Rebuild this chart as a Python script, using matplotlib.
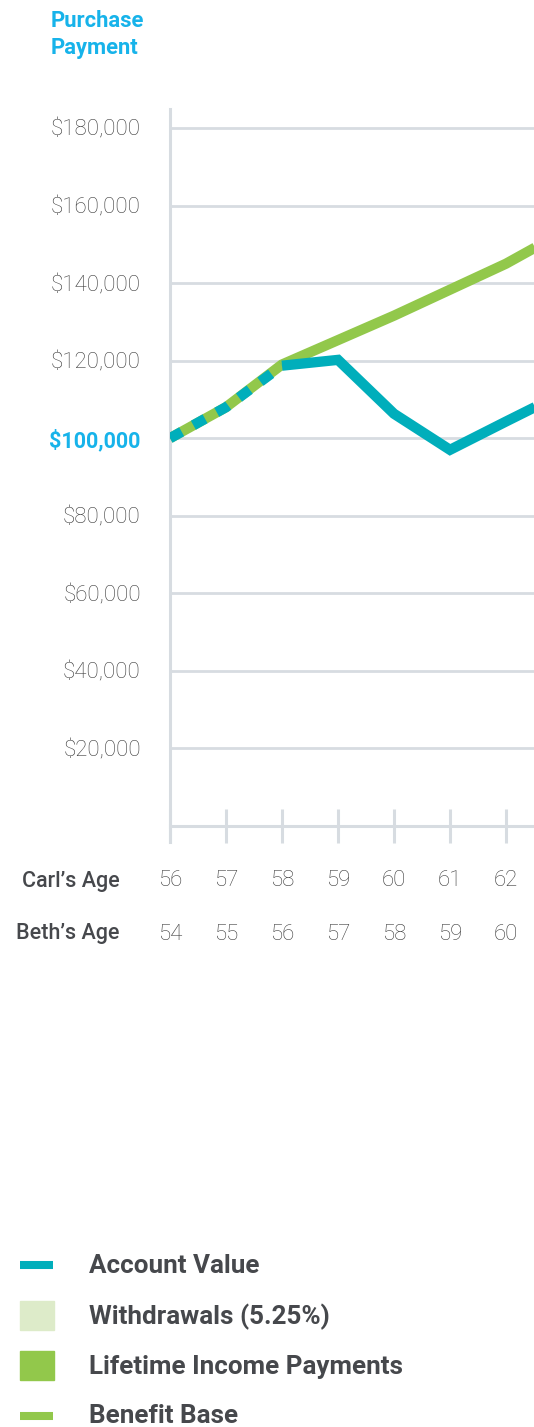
import matplotlib
matplotlib.use("Agg")
import matplotlib.pyplot as plt
from matplotlib.patches import Rectangle
from matplotlib.lines import Line2D

# ---- data ----
carl_ages = [56, 57, 58, 59, 60, 61, 62, 63]
beth_ages = [54, 55, 56, 57, 58, 59, 60]
account_value = [100000, 108000, 118700, 120200, 106300, 97000, 104300, 111500]
benefit_base = [100000, 108000, 119000, 125300, 131600, 138300, 145000, 153000]
dashed_until = 58  # both series overlap up to this age
y_ticks = [20000, 40000, 60000, 80000, 100000, 120000, 140000, 160000, 180000]
y_tick_labels = ["$20,000", "$40,000", "$60,000", "$80,000", "$100,000",
                 "$120,000", "$140,000", "$160,000", "$180,000"]
highlight_tick = 100000
legend_labels = ["Account Value", "Withdrawals (5.25%)",
                 "Lifetime Income Payments", "Benefit Base"]

TEAL = "#00AEBB"
GREEN = "#92C84B"
LIGHT_GREEN = "#DDEBC9"
GRID = "#D7DCE1"
CYAN = "#17B3EA"
TXT = "#3C3C3C"
DARK = "#46484C"

W, H = 534, 1427
fig = plt.figure(figsize=(W / 100, H / 100), dpi=100)
fig.patch.set_facecolor("white")

def fx(px):
    return px / W

def fy(py):
    return 1 - py / H

y_lo, y_hi = -4126, 184890
ax = fig.add_axes([fx(170), fy(842), fx(534) - fx(170), fy(109) - fy(842)])
ax.set_xlim(56, 62.5)
ax.set_ylim(y_lo, y_hi)
ax.set_facecolor("none")

for s in ["top", "right"]:
    ax.spines[s].set_visible(False)
ax.spines["left"].set_color(GRID)
ax.spines["left"].set_linewidth(2.2)
ax.spines["bottom"].set_position(("data", 0))
ax.spines["bottom"].set_color(GRID)
ax.spines["bottom"].set_linewidth(2.2)

# grid lines
for v in y_ticks:
    ax.axhline(v, color=GRID, lw=2.0, zorder=1)

# y ticks
ax.set_yticks(y_ticks)
ax.set_yticklabels(y_tick_labels)
ax.tick_params(axis="y", length=0, pad=21)
for lab, v in zip(ax.get_yticklabels(), y_ticks):
    lab.set_fontfamily("Roboto")
    lab.set_fontsize(16)
    if v == highlight_tick:
        lab.set_color(CYAN)
        lab.set_fontweight("bold")
        lab.set_fontsize(15.5)
    else:
        lab.set_color(TXT)
        lab.set_fontweight("light")

# x ticks
ax.set_xticks(carl_ages[:7])
ax.set_xticklabels([])
ax.tick_params(axis="x", direction="inout", length=24.5, width=2.2, color=GRID)

# lines
n_dash = carl_ages.index(dashed_until) + 1
ax.plot(carl_ages, benefit_base, color=GREEN, lw=7.4, solid_capstyle="butt",
        solid_joinstyle="miter", zorder=3)
ax.plot(carl_ages[n_dash - 1:], account_value[n_dash - 1:], color=TEAL, lw=7.4,
        solid_capstyle="butt", solid_joinstyle="miter", zorder=4)
ax.plot(carl_ages[:n_dash], account_value[:n_dash], color=TEAL, lw=7.4,
        dashes=(1.3, 1.3), dash_capstyle="butt", zorder=5)

# age rows
fig.text(fx(120), fy(881), "Carl\u2019s Age", ha="right", va="center",
         fontfamily="Roboto", fontweight="medium", fontsize=15.5, color=DARK)
fig.text(fx(120), fy(934), "Beth\u2019s Age", ha="right", va="center",
         fontfamily="Roboto", fontweight="medium", fontsize=15.5, color=DARK)
inv = fig.transFigure.inverted()
for a, b in zip(carl_ages[:7], beth_ages):
    xf = inv.transform(ax.transData.transform((a, 0)))[0]
    fig.text(xf, fy(881), str(a), ha="center", va="center", fontfamily="Roboto",
             fontweight="light", fontsize=16, color=TXT)
    fig.text(xf, fy(934), str(b), ha="center", va="center", fontfamily="Roboto",
             fontweight="light", fontsize=16, color=TXT)

# title
fig.text(fx(51), fy(21), "Purchase", ha="left", va="center",
         fontfamily="Roboto", fontweight="bold", fontsize=15.8, color=CYAN)
fig.text(fx(51), fy(48), "Payment", ha="left", va="center",
         fontfamily="Roboto", fontweight="bold", fontsize=15.8, color=CYAN)

# legend
fig.add_artist(Line2D([fx(20), fx(53)], [fy(1265), fy(1265)], color=TEAL, lw=5.8,
                      solid_capstyle="butt"))
fig.add_artist(Rectangle((fx(20), fy(1330)), fx(54) - fx(20), fy(1301) - fy(1330),
                         color=LIGHT_GREEN, transform=fig.transFigure))
fig.add_artist(Rectangle((fx(20), fy(1380)), fx(54) - fx(20), fy(1351) - fy(1380),
                         color=GREEN, transform=fig.transFigure))
fig.add_artist(Line2D([fx(20), fx(53)], [fy(1416), fy(1416)], color=GREEN, lw=5.8,
                      solid_capstyle="butt"))
for lab, yy in zip(legend_labels, [1266, 1317, 1367, 1416]):
    fig.text(fx(89), fy(yy), lab, ha="left", va="center", fontfamily="Roboto",
             fontweight="bold", fontsize=18.7, color=DARK)

fig.savefig("out.png", dpi=100, facecolor="white")
